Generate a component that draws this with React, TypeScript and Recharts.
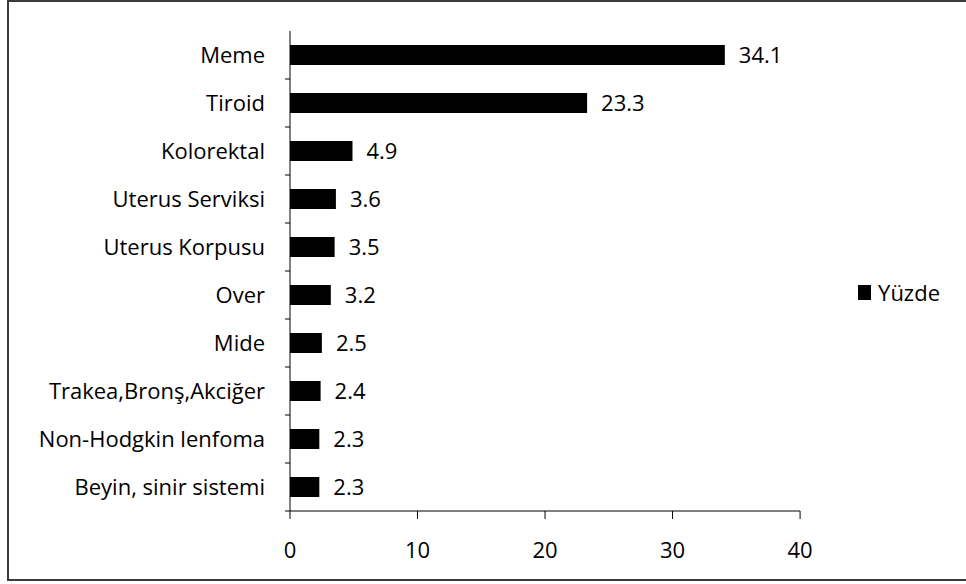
import React from "react";
import { BarChart, Bar, XAxis, YAxis, LabelList, Legend } from "recharts";

const categories = [
  "Meme",
  "Tiroid",
  "Kolorektal",
  "Uterus Serviksi",
  "Uterus Korpusu",
  "Over",
  "Mide",
  "Trakea,Bronş,Akciğer",
  "Non-Hodgkin lenfoma",
  "Beyin, sinir sistemi",
];
const values = [34.1, 23.3, 4.9, 3.6, 3.5, 3.2, 2.5, 2.4, 2.3, 2.3];
const xTicks = [0, 10, 20, 30, 40];
const seriesName = "Yüzde";

const data = categories.map((c, i) => ({ name: c, value: values[i] }));

const FONT = "'Open Sans', sans-serif";

const YTick = (props: any) => {
  const { x, y, payload } = props;
  const off = payload && payload.offset ? payload.offset : 0;
  return (
    <g>
      <line x1={x + 20} x2={x + 25} y1={y + off} y2={y + off} stroke="#000" strokeWidth={1} />
      <text x={x} y={y} dy="0.35em" textAnchor="end" fontFamily={FONT} fontSize={22} fill="#000">
        {payload.value}
      </text>
    </g>
  );
};

const LegendContent = () => (
  <div style={{ display: "flex", alignItems: "center", fontFamily: FONT, fontSize: 22, color: "#000" }}>
    <span style={{ display: "inline-block", width: 13, height: 15, background: "#000", marginRight: 7 }} />
    <span>{seriesName}</span>
  </div>
);

export default function App() {
  return (
    <div style={{ position: "absolute", left: 0, top: 0, width: 966, height: 584, overflow: "hidden", background: "#fff" }}>
      <div
        style={{
          position: "absolute",
          left: 7,
          top: 0,
          width: 1000,
          height: 581,
          boxSizing: "border-box",
          border: "2px solid #3a3a3a",
        }}
      />
      <div style={{ position: "absolute", left: 0, top: 0 }}>
        <BarChart
          width={966}
          height={584}
          data={data}
          layout="vertical"
          margin={{ top: 31, right: 84, bottom: 33, left: 0 }}
          barSize={20}
        >
          <XAxis
            type="number"
            domain={[0, 40]}
            ticks={xTicks}
            height={40}
            axisLine={{ stroke: "#000" }}
            tickLine={{ stroke: "#000" }}
            tickSize={8}
            tickMargin={23}
            tick={{ fontFamily: FONT, fontSize: 22, fill: "#000" }}
          />
          <YAxis
            type="category"
            dataKey="name"
            width={290}
            axisLine={{ stroke: "#000" }}
            tickLine={false}
            tickSize={0}
            tickMargin={25}
            tick={<YTick />}
            interval={0}
          />
          <Legend
            layout="vertical"
            align="right"
            verticalAlign="middle"
            content={<LegendContent />}
            wrapperStyle={{ right: 26 }}
          />
          <Bar dataKey="value" name={seriesName} fill="#000" isAnimationActive={false}>
            <LabelList
              dataKey="value"
              position="right"
              offset={14}
              style={{ fontFamily: FONT, fontSize: 22, fill: "#000" }}
              formatter={(v: any) => Number(v).toFixed(1)}
            />
          </Bar>
        </BarChart>
      </div>
    </div>
  );
}
